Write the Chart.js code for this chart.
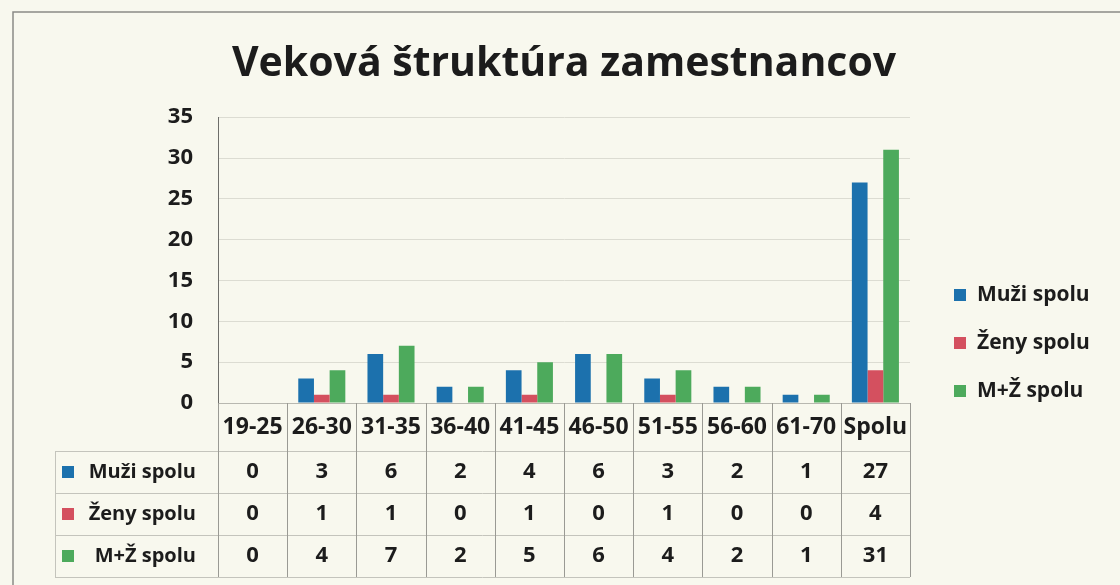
<!DOCTYPE html>
<html>
<head>
<meta charset="utf-8">
<title>Veková štruktúra zamestnancov</title>
<script src="https://cdn.jsdelivr.net/npm/chart.js@4"></script>
<style>
  html, body { margin: 0; padding: 0; background: #f8f8ee; }
  #wrap { width: 1120px; height: 585px; }
</style>
</head>
<body>
<div id="wrap"><canvas id="myChart" width="1120" height="585"></canvas></div>
<script>
// Dáta grafu
const categories = ['19-25', '26-30', '31-35', '36-40', '41-45', '46-50', '51-55', '56-60', '61-70', 'Spolu'];
const muzi = [0, 3, 6, 2, 4, 6, 3, 2, 1, 27];
const zeny = [0, 1, 1, 0, 1, 0, 1, 0, 0, 4];
const spolu = [0, 4, 7, 2, 5, 6, 4, 2, 1, 31];
const seriesNames = ['Muži spolu', 'Ženy spolu', 'M+Ž spolu'];
const seriesColors = ['#1c71ad', '#d4505f', '#4daa5c'];
const yMax = 35;
const yStep = 5;

const FONT = '"Open Sans", Lato, sans-serif';
const TEXT = '#1c1c1c';

// pozadie a rám
const bgPlugin = {
    id: 'bg',
    beforeDraw(chart) {
        const ctx = chart.ctx;
        ctx.save();
        ctx.fillStyle = '#f8f8ee';
        ctx.fillRect(0, 0, chart.width, chart.height);
        ctx.strokeStyle = '#8a8a86';
        ctx.lineWidth = 1.5;
        ctx.beginPath();
        ctx.moveTo(13, chart.height);
        ctx.lineTo(13, 12);
        ctx.lineTo(chart.width, 12);
        ctx.stroke();
        ctx.restore();
    }
};

// tabuľka s údajmi pod grafom + legenda vpravo
const tablePlugin = {
    id: 'dataTable',
    afterDraw(chart) {
        const ctx = chart.ctx;
        const x = chart.scales.x;
        const area = chart.chartArea;
        const rowH = 42;
        const headBottom = 451;
        const tableLeft = 55;
        const tableBottom = headBottom + rowH * 3;
        const half = (x.getPixelForValue(1) - x.getPixelForValue(0)) / 2;

        ctx.save();
        // horizontálne čiary
        ctx.strokeStyle = '#c4c4bc';
        ctx.lineWidth = 1;
        for (let r = 0; r <= 3; r++) {
            const y = Math.round(headBottom + r * rowH) + 0.5;
            ctx.beginPath();
            ctx.moveTo(tableLeft, y);
            ctx.lineTo(area.right, y);
            ctx.stroke();
        }
        ctx.beginPath();
        ctx.moveTo(tableLeft + 0.5, headBottom);
        ctx.lineTo(tableLeft + 0.5, tableBottom);
        ctx.stroke();

        // vertikálne čiary medzi kategóriami
        ctx.strokeStyle = '#9a9a94';
        categories.forEach((c, i) => {
            const px = Math.round(x.getPixelForValue(i) - half) + 0.5;
            ctx.beginPath();
            ctx.moveTo(px, area.bottom);
            ctx.lineTo(px, tableBottom);
            ctx.stroke();
        });
        const pr = Math.round(area.right) + 0.5;
        ctx.beginPath();
        ctx.moveTo(pr, area.bottom);
        ctx.lineTo(pr, tableBottom);
        ctx.stroke();

        // hodnoty
        ctx.textBaseline = 'middle';
        chart.data.datasets.forEach((ds, r) => {
            const cy = headBottom + rowH * r + rowH / 2;
            ctx.fillStyle = TEXT;
            ctx.textAlign = 'center';
            ctx.font = 'bold 22px ' + FONT;
            ds.data.forEach((v, i) => {
                ctx.fillText(String(v), x.getPixelForValue(i), cy);
            });
            ctx.font = 'bold 20px ' + FONT;
            ctx.textAlign = 'right';
            ctx.fillText(ds.label, 196, cy);
            ctx.fillStyle = ds.backgroundColor;
            ctx.fillRect(62, cy - 6, 12, 12);
        });

        // legenda vpravo
        ctx.font = 'bold 21px ' + FONT;
        chart.data.datasets.forEach((ds, r) => {
            const cy = 295 + r * 48;
            ctx.fillStyle = ds.backgroundColor;
            ctx.fillRect(954, cy - 6, 12, 12);
            ctx.fillStyle = TEXT;
            ctx.textAlign = 'left';
            ctx.fillText(ds.label, 977, cy);
        });
        ctx.restore();
    }
};

Chart.register(bgPlugin, tablePlugin);

const ctx = document.getElementById('myChart').getContext('2d');
const myChart = new Chart(ctx, {
    type: 'bar',
    data: {
        labels: categories,
        datasets: [
            { label: seriesNames[0], data: muzi, backgroundColor: seriesColors[0] },
            { label: seriesNames[1], data: zeny, backgroundColor: seriesColors[1] },
            { label: seriesNames[2], data: spolu, backgroundColor: seriesColors[2] }
        ]
    },
    options: {
        responsive: false,
        animation: false,
        layout: { padding: { left: 0, right: 210, top: 0, bottom: 0 } },
        datasets: {
            bar: { categoryPercentage: 0.68, barPercentage: 1.0 }
        },
        plugins: {
            legend: { display: false },
            tooltip: { enabled: false },
            title: {
                display: true,
                text: 'Veková štruktúra zamestnancov',
                fullSize: false,
                color: TEXT,
                font: { family: FONT, size: 41, weight: 'bold', lineHeight: 1.2 },
                padding: { top: 40, bottom: 28 }
            }
        },
        scales: {
            x: {
                grid: { display: false, drawTicks: false },
                border: { display: true, color: '#b8b8b0' },
                ticks: {
                    color: TEXT,
                    padding: 11,
                    maxRotation: 0,
                    autoSkip: false,
                    font: { family: FONT, size: 23, weight: 'bold' }
                },
                afterFit(scale) { scale.height = 182; }
            },
            y: {
                min: 0,
                max: yMax,
                grid: { color: '#dcdcd2', drawTicks: false },
                border: { display: true, color: '#6e6e6a' },
                ticks: {
                    stepSize: yStep,
                    color: TEXT,
                    padding: 25,
                    font: { family: FONT, size: 22, weight: 'bold' }
                },
                afterFit(scale) { scale.width = 218; }
            }
        }
    }
});
</script>
</body>
</html>
